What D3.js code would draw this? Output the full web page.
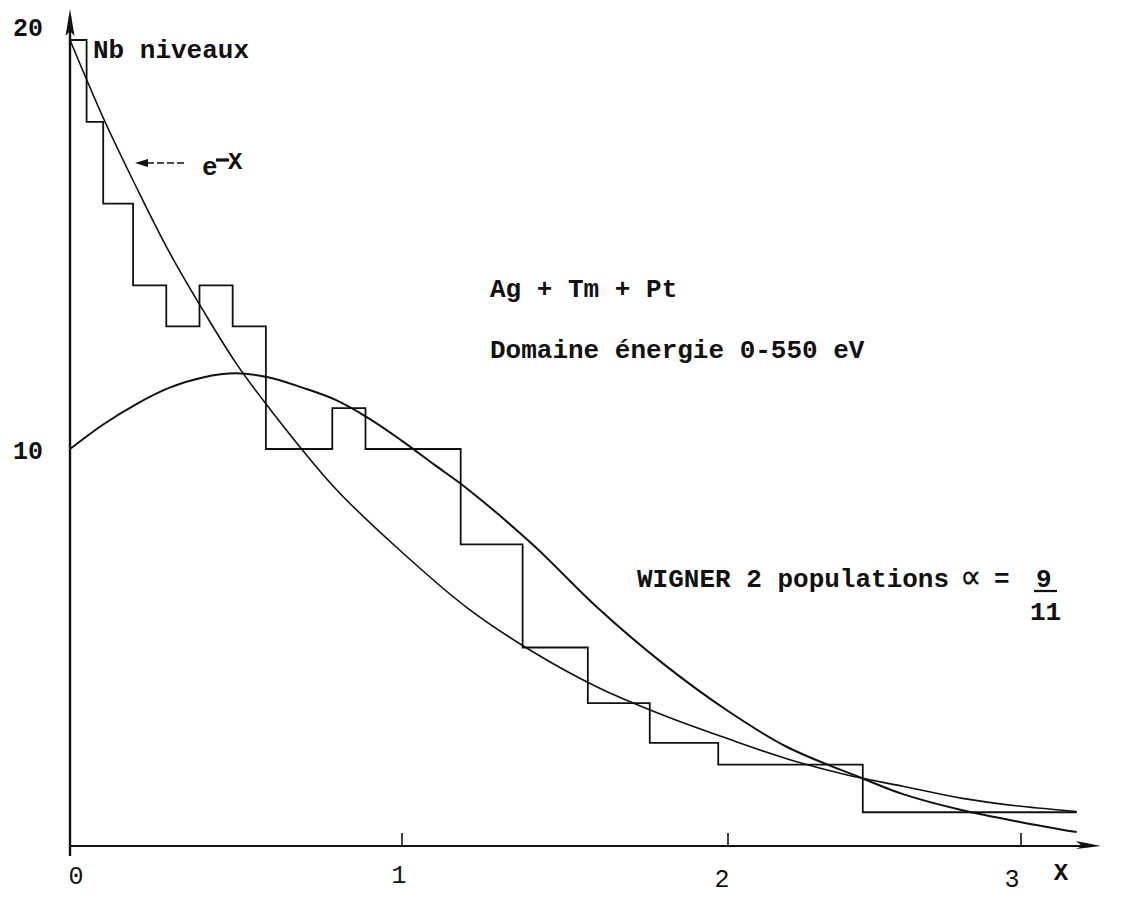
<!DOCTYPE html>
<html>
<head>
<meta charset="utf-8">
<script src="https://cdn.jsdelivr.net/npm/d3@7"></script>
<style>
  body { margin: 0; background: #fff; }
  svg text { font-family: "Liberation Mono", "DejaVu Sans Mono", monospace; fill: #111; }
</style>
</head>
<body>
<svg id="chart" width="1123" height="898"></svg>
<script>
// Level-spacing histogram: bin edges in X and number of levels per bin
const binEdges  = [0, 0.05, 0.10, 0.19, 0.29, 0.39, 0.49, 0.59, 0.79, 0.89, 1.18, 1.37, 1.57, 1.76, 1.97, 2.46, 3.19];
const binCounts = [20, 18, 16, 14, 13, 14, 13, 10, 11, 10, 7.6, 5.0, 3.6, 2.6, 2.05, 0.85];

// Exponential law e^-X (scaled), sampled along X
const expX = [0, 0.1, 0.2, 0.3, 0.4, 0.5, 0.6, 0.8, 1.0, 1.2, 1.4, 1.6, 1.8, 2.0, 2.2, 2.4, 2.6, 2.8, 3.0, 3.19];
const expY = [20.0, 18.1, 16.4, 14.8, 13.4, 12.1, 11.0, 9.0, 7.4, 6.0, 4.9, 4.0, 3.3, 2.7, 2.2, 1.8, 1.5, 1.2, 1.0, 0.87];

// Wigner law for two superposed populations (alpha = 9/11)
const wignerX = [0, 0.1, 0.2, 0.3, 0.4, 0.5, 0.6, 0.7, 0.8, 0.9, 1.0, 1.1, 1.2, 1.4, 1.6, 1.8, 2.0, 2.2, 2.46, 2.6, 2.8, 3.0, 3.19];
const wignerY = [10.0, 10.6, 11.1, 11.5, 11.75, 11.85, 11.75, 11.5, 11.2, 10.75, 10.2, 9.6, 9.0, 7.6, 6.0, 4.6, 3.4, 2.5, 1.7, 1.3, 0.9, 0.6, 0.35];

// Axis ticks and labels
const xTickValues = [1, 2, 3];
const xTickLabelValues = [0, 1, 2, 3];
const xTickLabels = ["0", "1", "2", "3"];
const yTickValues = [10, 20];
const yTickLabels = ["10", "20"];

const svg = d3.select("#chart");

// Hand-drawn axes: graduations are not evenly spaced, so the scales are piecewise
const x = d3.scaleLinear().domain([0, 1, 2, 3]).range([70, 402, 728, 1021]);
const y = d3.scaleLinear().domain([0, 10, 20]).range([846, 449, 40]);

const ink = "#111";

// ---- axes ----
const axes = svg.append("g").attr("stroke", ink).attr("fill", "none");
// vertical axis with arrow
axes.append("line")
  .attr("x1", x(0)).attr("y1", y(0) + 10)
  .attr("x2", x(0)).attr("y2", 16)
  .attr("stroke-width", 2.4);
svg.append("path")
  .attr("d", `M${x(0)},9 L${x(0) - 4.5},36 L${x(0)},31 L${x(0) + 4.5},36 Z`)
  .attr("fill", ink);
// horizontal axis with arrow
axes.append("line")
  .attr("x1", x(0) - 1).attr("y1", y(0))
  .attr("x2", 1090).attr("y2", y(0))
  .attr("stroke-width", 1.8);
svg.append("path")
  .attr("d", `M1101,${y(0)} L1076,${y(0) - 5} L1082,${y(0)} L1076,${y(0) + 3} Z`)
  .attr("fill", ink);

// tick marks above the X axis
axes.selectAll("line.tick")
  .data(xTickValues)
  .join("line")
  .attr("class", "tick")
  .attr("x1", d => x(d)).attr("x2", d => x(d))
  .attr("y1", y(0)).attr("y2", y(0) - 13)
  .attr("stroke-width", 1.6);

// tick labels
svg.selectAll("text.xlab")
  .data(xTickLabelValues)
  .join("text")
  .attr("class", "xlab")
  .attr("x", (d, i) => x(d) + [6, -3, -6, -9][i])
  .attr("y", (d, i) => [884, 883, 887, 887][i])
  .attr("text-anchor", "middle")
  .attr("font-size", 25)
  .text((d, i) => xTickLabels[i]);

svg.append("text")
  .attr("x", 1061).attr("y", 880)
  .attr("text-anchor", "middle")
  .attr("font-size", 24)
  .attr("font-weight", "bold")
  .text("X");

svg.selectAll("text.ylab")
  .data(yTickValues)
  .join("text")
  .attr("class", "ylab")
  .attr("x", 43)
  .attr("y", d => y(d) + (d === 20 ? -4 : 10))
  .attr("text-anchor", "end")
  .attr("font-size", 25)
  .attr("font-weight", "bold")
  .text((d, i) => yTickLabels[i]);

// ---- histogram (step outline) ----
const stepPts = binCounts.map((c, i) => [binEdges[i], c]);
stepPts.push([binEdges[binEdges.length - 1], binCounts[binCounts.length - 1]]);
svg.append("path")
  .datum(stepPts)
  .attr("fill", "none")
  .attr("stroke", ink)
  .attr("stroke-width", 1.8)
  .attr("d", d3.line().x(d => x(d[0])).y(d => y(d[1])).curve(d3.curveStepAfter));

// ---- curves ----
svg.append("path")
  .datum(expX.map((v, i) => [v, expY[i]]))
  .attr("fill", "none")
  .attr("stroke", ink)
  .attr("stroke-width", 1.6)
  .attr("d", d3.line().x(d => x(d[0])).y(d => y(d[1])).curve(d3.curveCatmullRom));

svg.append("path")
  .datum(wignerX.map((v, i) => [v, wignerY[i]]))
  .attr("fill", "none")
  .attr("stroke", ink)
  .attr("stroke-width", 2)
  .attr("d", d3.line().x(d => x(d[0])).y(d => y(d[1])).curve(d3.curveCatmullRom));

// ---- annotations ----
const label = (tx, ty, s, size = 26, weight = "bold") =>
  svg.append("text").attr("x", tx).attr("y", ty)
    .attr("font-size", size).attr("font-weight", weight).text(s);

label(93, 58, "Nb niveaux");

// pointer to the exponential curve
svg.append("line")
  .attr("x1", 147).attr("y1", 163).attr("x2", 186).attr("y2", 163)
  .attr("stroke", ink).attr("stroke-width", 1.6)
  .attr("stroke-dasharray", "7,3");
svg.append("path")
  .attr("d", "M135,163 L148,159 L148,167 Z")
  .attr("fill", ink);
label(202, 175, "e", 26, "bold");
svg.append("line")
  .attr("x1", 216).attr("y1", 160).attr("x2", 229).attr("y2", 160)
  .attr("stroke", ink).attr("stroke-width", 3.2);
label(228, 169, "X", 24, "bold");

label(490, 297, "Ag + Tm + Pt");
label(490, 358, "Domaine énergie 0-550 eV");

label(637, 587, "WIGNER 2 populations");
svg.append("text").attr("x", 960).attr("y", 589)
  .attr("font-family", "DejaVu Sans").attr("font-size", 36).text("\u221D");
label(994, 587, "=");
label(1036, 587, "9");
svg.append("line")
  .attr("x1", 1034).attr("y1", 591).attr("x2", 1057).attr("y2", 591)
  .attr("stroke", ink).attr("stroke-width", 2.2);
label(1030, 620, "11");
</script>
</body>
</html>
